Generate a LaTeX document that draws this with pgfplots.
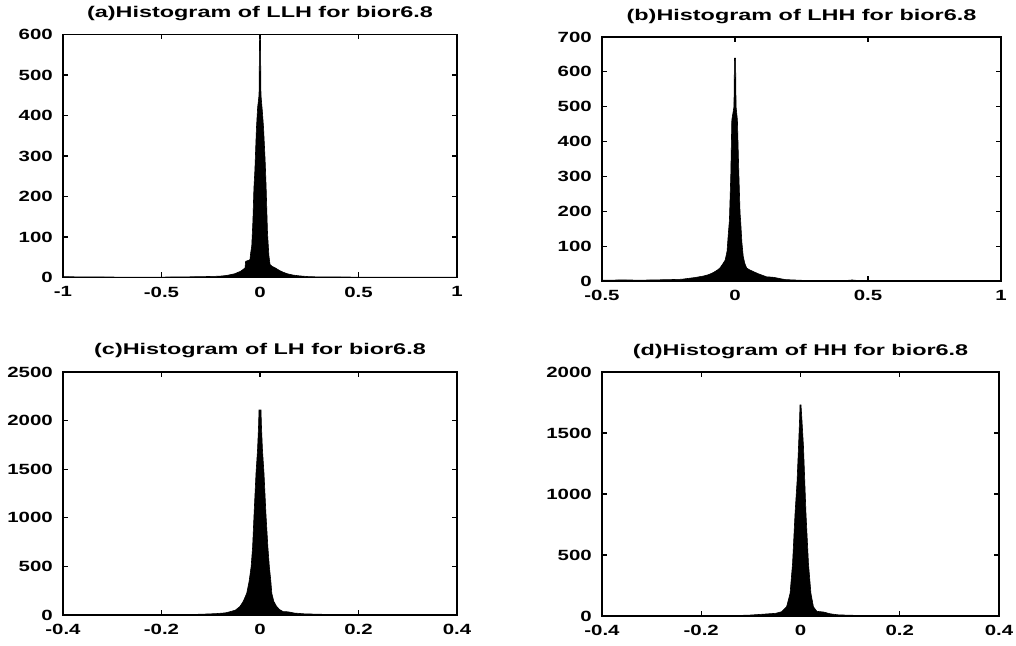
\documentclass[border=0pt]{standalone}
\usepackage{fontspec}
\setmainfont{Liberation Sans Bold}[FakeStretch=1.38]
\newfontfamily\titlefont{Liberation Sans Bold}[FakeStretch=1.51]
\usepackage{pgfplots}
\pgfplotsset{compat=1.18}
\pgfplotsset{
  mlab/.style={
    scale only axis,
    anchor=south west,
    axis line style={line width=1.6pt},
    tick align=inside,
    major tick length=5pt,
    tick style={line width=1.1pt, black},
    font=\fontsize{14.8}{16}\selectfont,
    tick label style={font=\fontsize{14.8}{16}\selectfont},
    xticklabel style={anchor=north, inner sep=0pt, yshift=-9pt},
    yticklabel style={anchor=east, inner sep=0pt, xshift=-10pt},
    title style={at={(0.5,1)}, anchor=base, yshift=11pt, inner sep=0pt, font=\titlefont\fontsize{15.5}{17}\selectfont},
    ymin=0,
    clip=true,
  },
  hist/.style={draw=black, fill=black, line width=0.6pt},
}
\begin{document}
\fontsize{14}{16}\selectfont
\begin{tikzpicture}[x=1pt,y=1pt]
\useasboundingbox (0,0) rectangle (1016,645);
% (a)
\begin{axis}[mlab, at={(63pt,367.5pt)}, width=394pt, height=243pt,
  xmin=-1, xmax=1, ymax=600,
  xtick={-1,-0.5,0,0.5,1}, xticklabels={-1,-0.5,0,0.5,1},
  ytick={0,100,200,300,400,500,600}, yticklabels={0,100,200,300,400,500,600},
  title={(a)Histogram of LLH for bior6.8}]
\addplot[hist] coordinates {
(-1,2)(-0.9,1.5)(-0.7,1)(-0.5,1)(-0.4,1.5)(-0.3,2)(-0.22,3)(-0.2,3.5)(-0.17,5)(-0.13,9)(-0.1,15)(-0.085,20)(-0.076,24)(-0.073,40)(-0.06,42)(-0.051,44)(-0.047,62)(-0.042,77)(-0.036,140)(-0.031,220)(-0.026,265)(-0.018,370)(-0.012,420)(-0.005,450)(-0.002,600)(0.002,600)(0.005,450)(0.012,410)(0.018,370)(0.026,290)(0.031,225)(0.038,111)(0.045,55)(0.051,32)(0.06,28)(0.076,24)(0.1,17)(0.118,13)(0.14,9)(0.168,6)(0.2,4)(0.25,2)(0.3,1.5)(0.5,1)(0.7,0.5)(1,0.5)
} \closedcycle;
\end{axis}
% (b)
\begin{axis}[mlab, at={(602pt,364pt)}, width=399pt, height=244pt,
  xmin=-0.5, xmax=1, ymax=700,
  xtick={-0.5,0,0.5,1}, xticklabels={-0.5,0,0.5,1},
  ytick={0,100,200,300,400,500,600,700}, yticklabels={0,100,200,300,400,500,600,700},
  title={(b)Histogram of LHH for bior6.8}]
\addplot[hist] coordinates {
(-0.5,2)(-0.43,3)(-0.35,2.5)(-0.31,3)(-0.244,4)(-0.2,5)(-0.18,7)(-0.15,10)(-0.12,14)(-0.1,18)(-0.082,24)(-0.065,32)(-0.056,38)(-0.045,50)(-0.037,60)(-0.03,85)(-0.025,137)(-0.021,175)(-0.016,300)(-0.012,462)(-0.004,500)(-0.002,639)(0.002,639)(0.004,500)(0.009,462)(0.014,320)(0.019,195)(0.021,175)(0.026,110)(0.031,70)(0.037,50)(0.044,37)(0.055,32)(0.069,27)(0.09,20)(0.119,12)(0.14,11)(0.156,9)(0.175,6)(0.19,4)(0.25,2)(0.35,1.5)(0.42,1.5)(0.44,3)(0.46,1.5)(0.6,1)(0.8,1)(1,1)
} \closedcycle;
\end{axis}
% (c)
\begin{axis}[mlab, at={(63pt,30pt)}, width=394pt, height=243pt,
  xmin=-0.4, xmax=0.4, ymax=2500,
  xtick={-0.4,-0.2,0,0.2,0.4}, xticklabels={-0.4,-0.2,0,0.2,0.4},
  ytick={0,500,1000,1500,2000,2500}, yticklabels={0,500,1000,1500,2000,2500},
  title={(c)Histogram of LH for bior6.8}]
\addplot[hist] coordinates {
(-0.4,3)(-0.3,2)(-0.2,3)(-0.15,4)(-0.12,8)(-0.09,14)(-0.07,22)(-0.061,34)(-0.05,50)(-0.041,86)(-0.034,140)(-0.027,223)(-0.022,350)(-0.018,497)(-0.015,700)(-0.012,1046)(-0.0081,1460)(-0.005,1700)(-0.003,1937)(-0.002,2109)(0.002,2109)(0.003,1937)(0.005,1700)(0.0081,1460)(0.012,1046)(0.016,700)(0.019,497)(0.022,350)(0.024,223)(0.028,140)(0.034,86)(0.04,55)(0.047,35)(0.054,34)(0.06,30)(0.07,20)(0.09,12)(0.12,8)(0.15,4)(0.2,3)(0.3,2)(0.4,2)
} \closedcycle;
\end{axis}
% (d)
\begin{axis}[mlab, at={(602pt,29pt)}, width=397pt, height=244pt,
  xmin=-0.4, xmax=0.4, ymax=2000,
  xtick={-0.4,-0.2,0,0.2,0.4}, xticklabels={-0.4,-0.2,0,0.2,0.4},
  ytick={0,500,1000,1500,2000}, yticklabels={0,500,1000,1500,2000},
  title={(d)Histogram of HH for bior6.8}]
\addplot[hist] coordinates {
(-0.4,2)(-0.3,2)(-0.2,3)(-0.12,5)(-0.1,8)(-0.075,15)(-0.05,22)(-0.038,35)(-0.028,76)(-0.021,186)(-0.016,432)(-0.011,842)(-0.007,1100)(-0.004,1388)(-0.002,1600)(-0.001,1730)(0.001,1730)(0.003,1600)(0.006,1388)(0.011,842)(0.016,432)(0.021,186)(0.026,76)(0.033,38)(0.046,33)(0.06,18)(0.075,10)(0.1,6)(0.15,4)(0.2,3)(0.3,2)(0.4,2)
} \closedcycle;
\end{axis}
\end{tikzpicture}
\end{document}
